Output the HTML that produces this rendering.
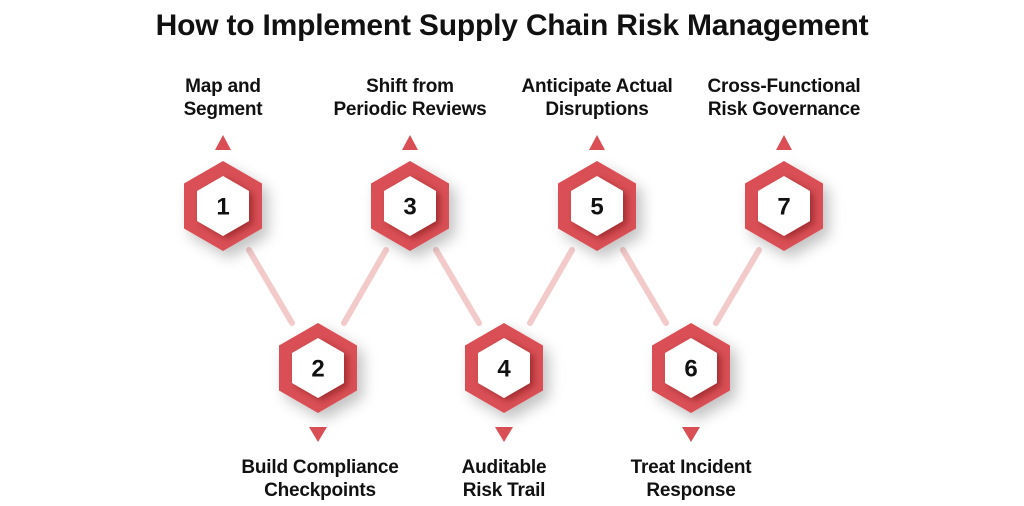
<!DOCTYPE html>
<html>
<head>
<meta charset="utf-8">
<style>
  html,body{margin:0;padding:0;background:#fff;}
  svg{display:block;}
  text{font-family:"Liberation Sans", Arial, sans-serif;font-weight:bold;fill:#111;}
</style>
</head>
<body>
<svg width="1024" height="506" viewBox="0 0 1024 506" xmlns="http://www.w3.org/2000/svg">
  <defs>
    <filter id="ds" x="-50%" y="-50%" width="210%" height="210%">
      <feDropShadow dx="6" dy="7" stdDeviation="7" flood-color="#000" flood-opacity="0.24"/>
    </filter>
    <filter id="ids" x="-40%" y="-40%" width="190%" height="190%">
      <feDropShadow dx="4" dy="3" stdDeviation="3.5" flood-color="#5a0a0e" flood-opacity="0.42"/>
    </filter>
    <polygon id="outer" points="0,-45 39,-22.5 39,22.5 0,45 -39,22.5 -39,-22.5"/>
    <polygon id="inner" points="0,-30 26,-15 26,15 0,30 -26,15 -26,-15"/>
  </defs>

  <text x="512" y="35" font-size="30" text-anchor="middle" letter-spacing="-0.2">How to Implement Supply Chain Risk Management</text>

  <!-- connectors -->
  <g stroke="#f3caca" stroke-width="6" stroke-linecap="round" fill="none">
    <line x1="249" y1="250" x2="292" y2="323"/>
    <line x1="344" y1="323" x2="386" y2="250"/>
    <line x1="436" y1="250" x2="479" y2="323"/>
    <line x1="530" y1="323" x2="572" y2="250"/>
    <line x1="623" y1="250" x2="666" y2="323"/>
    <line x1="716" y1="323" x2="759" y2="250"/>
  </g>

  <!-- triangles -->
  <g fill="#d94f55">
    <polygon points="223,135 231,150 215,150"/>
    <polygon points="410,135 418,150 402,150"/>
    <polygon points="597,135 605,150 589,150"/>
    <polygon points="784,135 792,150 776,150"/>
    <polygon points="309,427 327,427 318,442"/>
    <polygon points="495,427 513,427 504,442"/>
    <polygon points="682,427 700,427 691,442"/>
  </g>

  <!-- hexagons -->
  <g>
    <g transform="translate(223,206)"><use href="#outer" fill="#d94f55" filter="url(#ds)"/><use href="#inner" fill="#fff" filter="url(#ids)"/><text x="0" y="8.5" font-size="24" text-anchor="middle">1</text></g>
    <g transform="translate(318,368)"><use href="#outer" fill="#d94f55" filter="url(#ds)"/><use href="#inner" fill="#fff" filter="url(#ids)"/><text x="0" y="8.5" font-size="24" text-anchor="middle">2</text></g>
    <g transform="translate(410,206)"><use href="#outer" fill="#d94f55" filter="url(#ds)"/><use href="#inner" fill="#fff" filter="url(#ids)"/><text x="0" y="8.5" font-size="24" text-anchor="middle">3</text></g>
    <g transform="translate(504,368)"><use href="#outer" fill="#d94f55" filter="url(#ds)"/><use href="#inner" fill="#fff" filter="url(#ids)"/><text x="0" y="8.5" font-size="24" text-anchor="middle">4</text></g>
    <g transform="translate(597,206)"><use href="#outer" fill="#d94f55" filter="url(#ds)"/><use href="#inner" fill="#fff" filter="url(#ids)"/><text x="0" y="8.5" font-size="24" text-anchor="middle">5</text></g>
    <g transform="translate(691,368)"><use href="#outer" fill="#d94f55" filter="url(#ds)"/><use href="#inner" fill="#fff" filter="url(#ids)"/><text x="0" y="8.5" font-size="24" text-anchor="middle">6</text></g>
    <g transform="translate(784,206)"><use href="#outer" fill="#d94f55" filter="url(#ds)"/><use href="#inner" fill="#fff" filter="url(#ids)"/><text x="0" y="8.5" font-size="24" text-anchor="middle">7</text></g>
  </g>

  <!-- top labels -->
  <g font-size="19" letter-spacing="-0.2">
    <text x="223" y="92" text-anchor="middle">Map and</text>
    <text x="223" y="115" text-anchor="middle">Segment</text>
    <text x="410" y="92" text-anchor="middle">Shift from</text>
    <text x="410" y="115" text-anchor="middle">Periodic Reviews</text>
    <text x="597" y="92" text-anchor="middle">Anticipate Actual</text>
    <text x="597" y="115" text-anchor="middle">Disruptions</text>
    <text x="784" y="92" text-anchor="middle">Cross-Functional</text>
    <text x="784" y="115" text-anchor="middle">Risk Governance</text>
  </g>

  <!-- bottom labels -->
  <g font-size="19" letter-spacing="-0.2">
    <text x="320" y="473" text-anchor="middle">Build Compliance</text>
    <text x="320" y="496" text-anchor="middle">Checkpoints</text>
    <text x="504" y="473" text-anchor="middle">Auditable</text>
    <text x="504" y="496" text-anchor="middle">Risk Trail</text>
    <text x="691" y="473" text-anchor="middle">Treat Incident</text>
    <text x="691" y="496" text-anchor="middle">Response</text>
  </g>
</svg>
</body>
</html>
